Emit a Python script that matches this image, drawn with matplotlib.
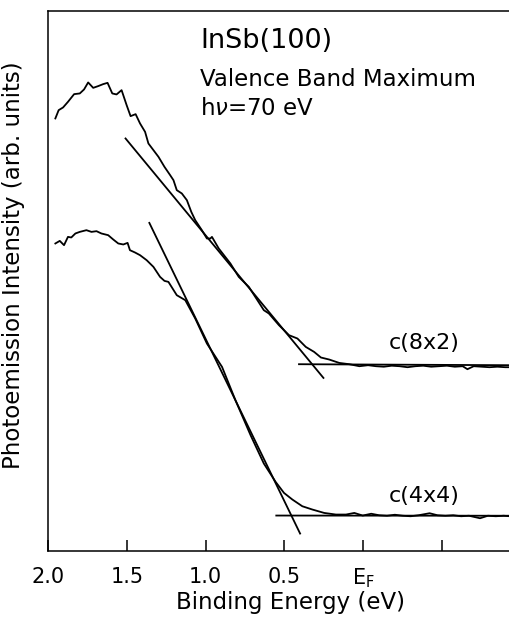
import matplotlib.pyplot as plt

# c(8x2) spectrum: binding energy (eV) and intensity (arb. units)
e_8x2 = [1.953, 1.932, 1.904, 1.873, 1.834, 1.798, 1.771, 1.745, 1.713, 1.682,
         1.650, 1.622, 1.592, 1.565, 1.533, 1.501, 1.476, 1.444, 1.416, 1.384,
         1.363, 1.331, 1.299, 1.261, 1.225, 1.204, 1.183, 1.151, 1.119, 1.091,
         1.066, 1.024, 0.992, 0.970, 0.960, 0.917, 0.843, 0.790, 0.726, 0.631,
         0.599, 0.535, 0.471, 0.418, 0.365, 0.312, 0.269, 0.217, 0.153, 0.089,
         0.025, -0.03, -0.08, -0.13, -0.18, -0.23, -0.28, -0.33, -0.38, -0.43,
         -0.48, -0.53, -0.58, -0.63, -0.66, -0.70, -0.75, -0.80, -0.85, -0.90, -0.93]
i_8x2 = [432.7, 441, 443.7, 449.3, 457, 457.7, 461.7, 468.7, 463.3, 465,
         467, 468.3, 457.7, 456.7, 461, 446, 435, 437, 427.7, 419.3,
         407.7, 401, 394.3, 384.3, 376, 371, 361, 357.7, 351, 339.3,
         331, 321, 312.7, 312.7, 314.3, 302.7, 287.7, 274.3, 264.3, 241,
         237.7, 226, 216, 212.7, 204.3, 199.3, 193.7, 191.7, 188.3, 187,
         185, 186, 185, 184.5, 185.5, 185, 184, 185, 185.5, 184.5,
         185, 185.5, 184.5, 185, 182, 185, 184.5, 184, 184.5, 184, 184]

# c(4x4) spectrum
e_4x4 = [1.953, 1.925, 1.898, 1.873, 1.852, 1.826, 1.798, 1.756, 1.724, 1.692,
         1.661, 1.618, 1.586, 1.554, 1.522, 1.495, 1.480, 1.448, 1.416, 1.374,
         1.331, 1.289, 1.261, 1.236, 1.183, 1.129, 1.066, 0.992, 0.896, 0.811,
         0.715, 0.631, 0.556, 0.503, 0.450, 0.387, 0.323, 0.248, 0.174, 0.110,
         0.057, 0.004, -0.05, -0.10, -0.15, -0.20, -0.25, -0.30, -0.35, -0.42,
         -0.47, -0.52, -0.57, -0.62, -0.67, -0.74, -0.79, -0.84, -0.89, -0.93]
i_4x4 = [307.7, 310.3, 306, 314.3, 313.7, 317.7, 319.3, 321, 319.3, 320,
         317.7, 316, 311.7, 307.7, 306.7, 308.3, 301, 298.7, 296, 291,
         284.3, 274.3, 270.3, 269.3, 256, 251, 232.7, 207.7, 184.3, 151,
         116, 87.7, 69.3, 58.3, 51.7, 45, 41.7, 38.3, 36.7, 36.7,
         38.3, 35.7, 37.5, 36, 35.5, 36.5, 35.5, 35, 36, 38,
         36, 35.5, 36, 35, 35.5, 33, 35.5, 35, 35.5, 35]

# linear extrapolations (tangent and background) for each spectrum
tan_8x2_e = [1.508, 0.253]
tan_8x2_i = [412.7, 173.3]
base_8x2_e = [0.408, -0.93]
base_8x2_i = [187, 186]

tan_4x4_e = [1.357, 0.401]
tan_4x4_i = [328.3, 17.7]
base_4x4_e = [0.552, -0.93]
base_4x4_i = [35.7, 35.5]

tick_pos = [2.0, 1.5, 1.0, 0.5, 0.0, -0.5]
tick_labels = ['2.0', '1.5', '1.0', '0.5', r'E$_{\mathrm{F}}$', '']

fig = plt.figure(figsize=(5.1, 6.18), dpi=100)
ax = fig.add_axes([0.094, 0.108, 0.906, 0.874])

lw = 1.3
ax.plot(e_8x2, i_8x2, color='black', lw=lw)
ax.plot(e_4x4, i_4x4, color='black', lw=lw)
ax.plot(tan_8x2_e, tan_8x2_i, color='black', lw=lw)
ax.plot(base_8x2_e, base_8x2_i, color='black', lw=lw)
ax.plot(tan_4x4_e, tan_4x4_i, color='black', lw=lw)
ax.plot(base_4x4_e, base_4x4_i, color='black', lw=lw)

ax.set_xlim(2.0, -0.93)
ax.set_ylim(0, 540)

ax.set_xticks(tick_pos)
ax.set_xticklabels(tick_labels, fontsize=15)
ax.set_yticks([])
ax.tick_params(axis='x', direction='in', length=8, width=1.1, pad=11)
ax.spines['right'].set_visible(False)
for s in ['left', 'bottom', 'top']:
    ax.spines[s].set_linewidth(1.1)

ax.set_xlabel('Binding Energy (eV)', fontsize=16.5)
ax.xaxis.set_label_coords(0.526, -0.074)
ax.set_ylabel('Photoemission Intensity (arb. units)', fontsize=16.5)
ax.yaxis.set_label_coords(-0.05, 0.53)

ax.text(1.034, 503, 'InSb(100)', fontsize=19.5, va='baseline', ha='left')
ax.text(1.034, 465, 'Valence Band Maximum', fontsize=16.5, va='baseline', ha='left')
ax.text(1.034, 436, r'h$\nu$=70 eV', fontsize=16.5, va='baseline', ha='left')
ax.text(-0.389, 202.7, 'c(8x2)', fontsize=16, va='baseline', ha='center')
ax.text(-0.389, 49.3, 'c(4x4)', fontsize=16, va='baseline', ha='center')

fig.savefig('out.png', dpi=100)
